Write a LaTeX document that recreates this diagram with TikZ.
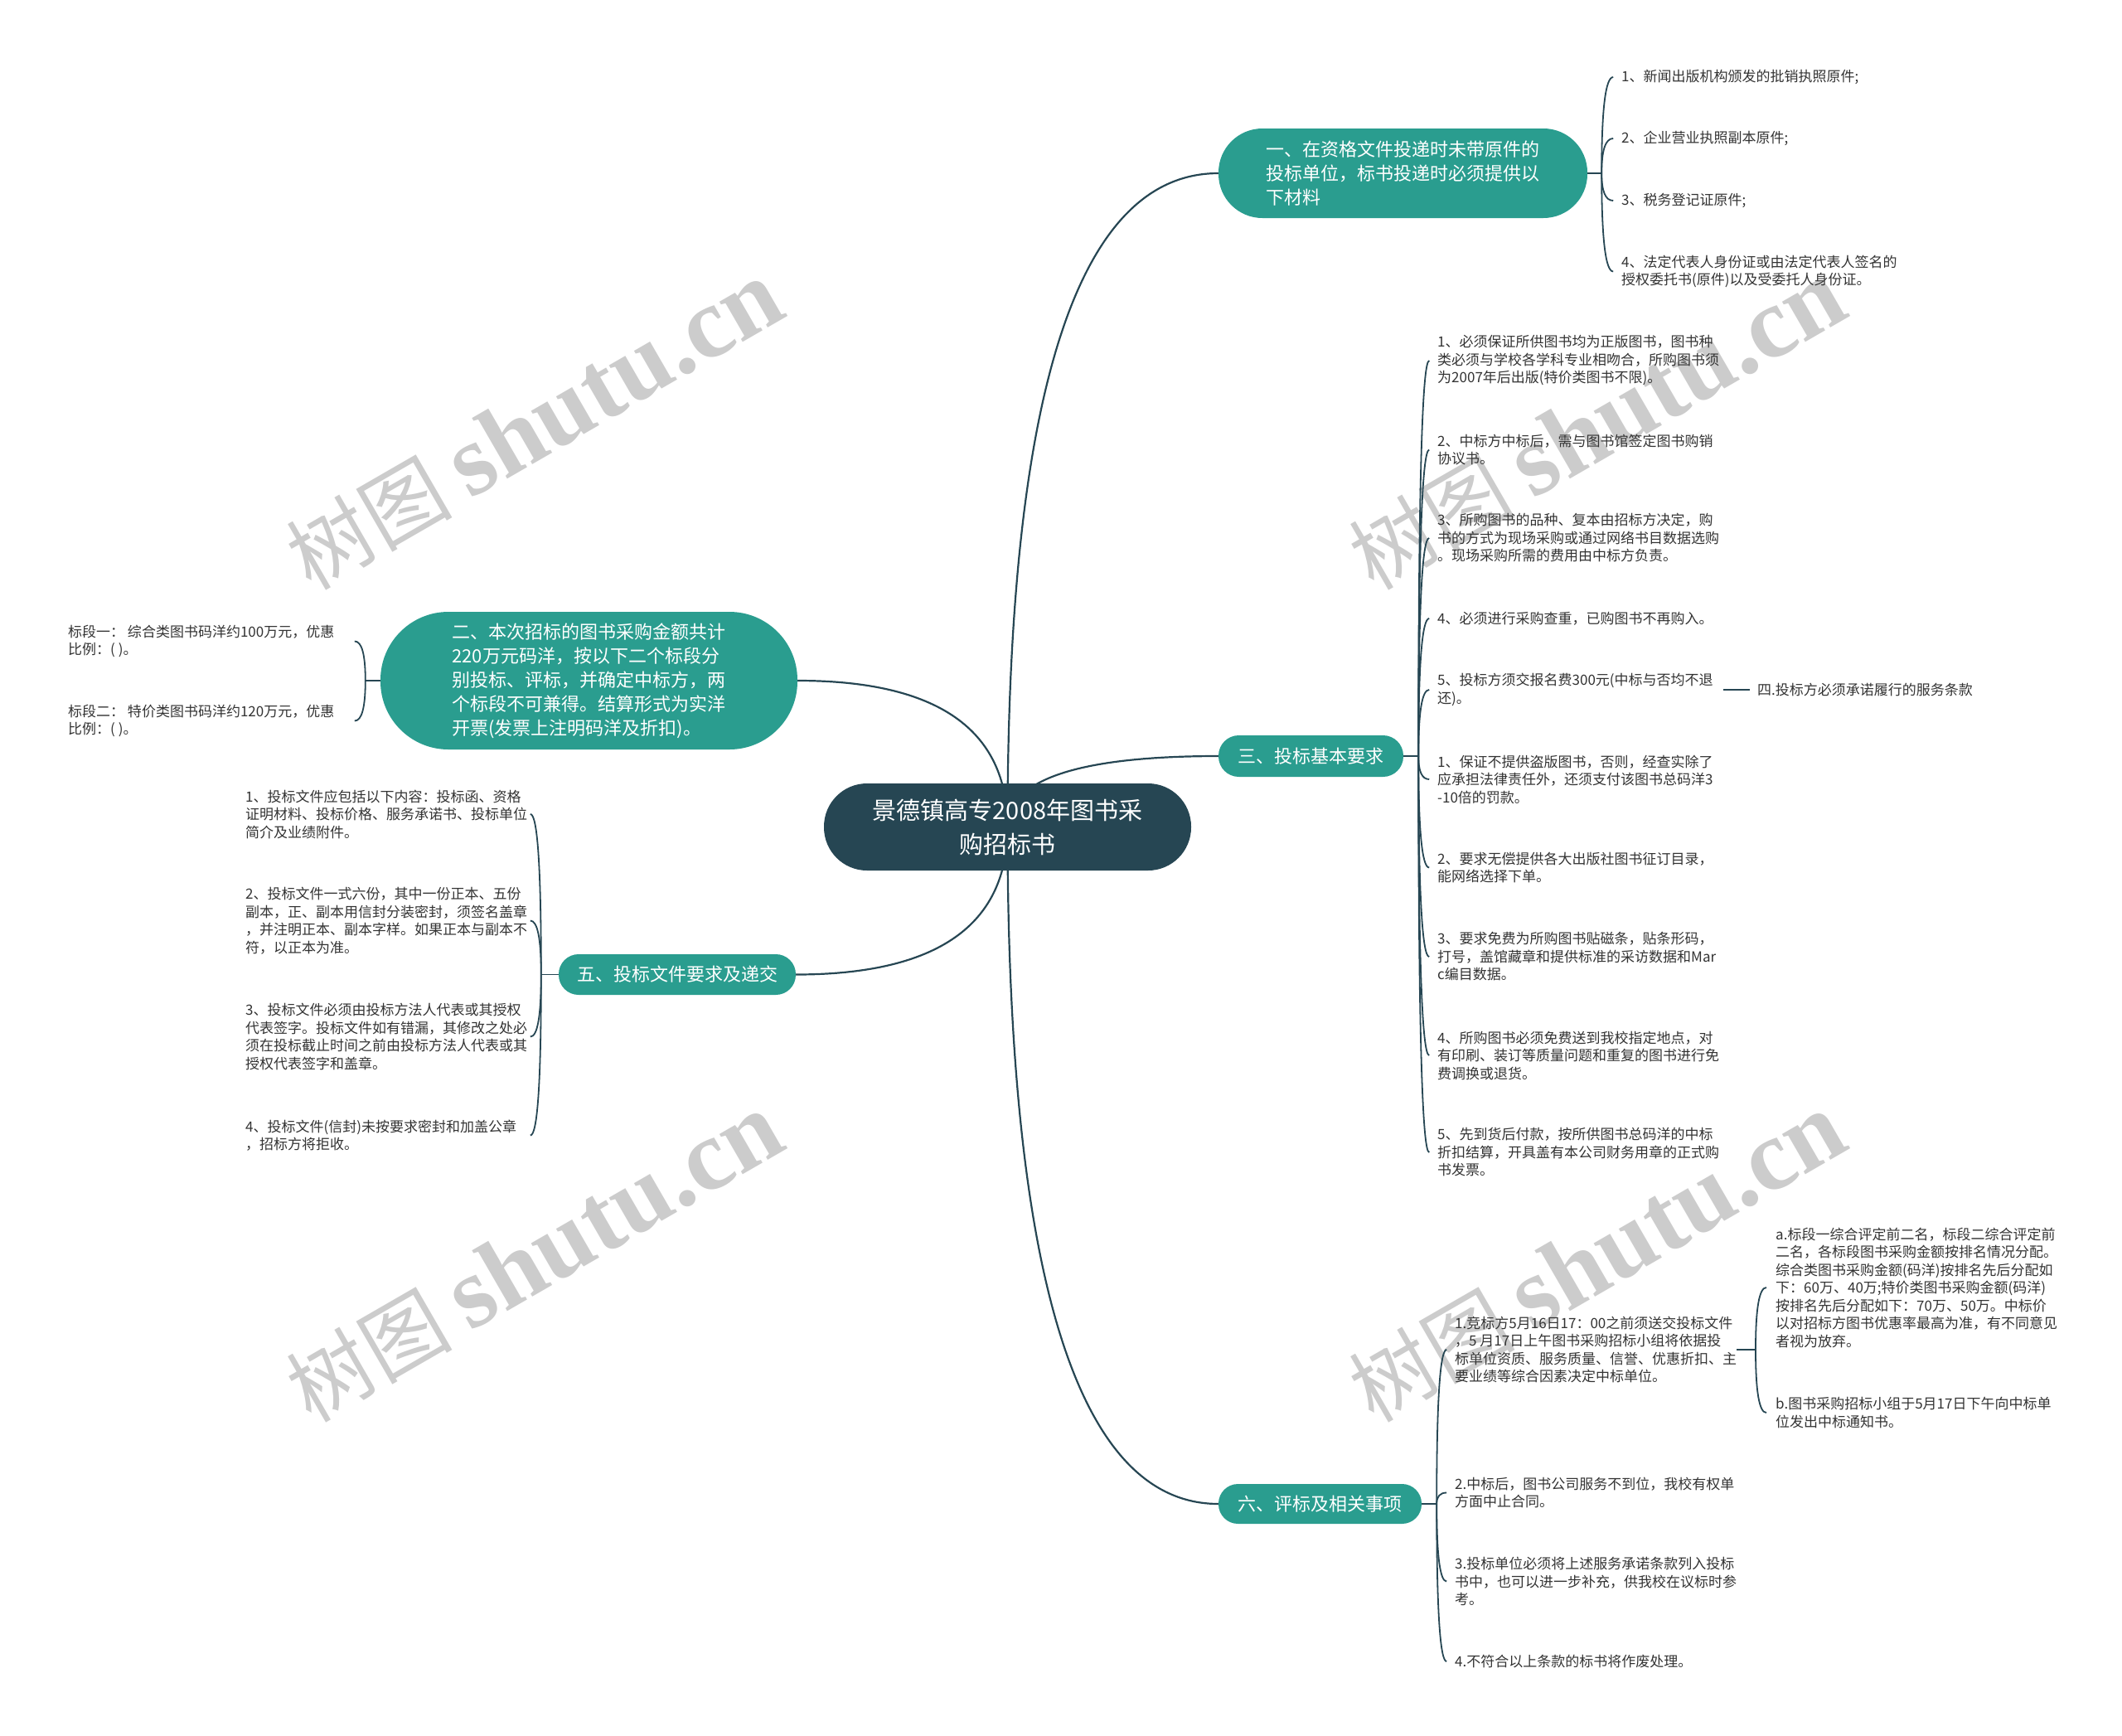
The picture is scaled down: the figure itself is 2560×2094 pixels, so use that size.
\documentclass[tikz,border=0pt]{standalone}
\usepackage{fontspec}
\setmainfont{Noto Sans CJK SC}
\newfontfamily\wmfont{Liberation Serif}
\usetikzlibrary{calc,backgrounds}
\definecolor{teal1}{HTML}{2A9D8F}
\definecolor{dark1}{HTML}{264653}
\definecolor{leaftxt}{HTML}{333333}
\definecolor{wmgray}{HTML}{CCCCCC}
% quadratic-like bracket connector: #1 spine start coordinate, #2 child node, #3 signed hook length
\newcommand\mybrk[3]{\draw[brk] (#1) .. controls ($(#1)!0.6667!(#1 |- #2)$) and ($(#1 |- #2)+(#3/3,0)$) .. ($(#1 |- #2)+(#3,0)$);}
\begin{document}
\begin{tikzpicture}[x=1pt,y=-1pt,
  mainnode/.style={fill=teal1,text=white,font=\fontsize{22pt}{29pt}\selectfont,inner sep=0pt},
  leaf/.style={text=leaftxt,font=\fontsize{17pt}{21.5pt}\selectfont,align=left,inner sep=0pt,anchor=west},
  link/.style={draw=dark1,line width=2.2pt},
  brk/.style={draw=dark1,line width=1.8pt},
  wmark/.style={text=wmgray,rotate=30,inner sep=0pt}
]
\useasboundingbox (0,0) rectangle (2560,2094);

% ---------- main nodes ----------
\node[mainnode,fill=dark1,minimum width=443pt,minimum height=105pt,rounded corners=52pt,align=center,font=\fontsize{29pt}{41pt}\selectfont] (ctr) at (1215.5,997.5) {景德镇高专2008年图书采\\购招标书};
\node[mainnode,minimum width=445pt,minimum height=108pt,rounded corners=53pt,align=left] (n1) at (1692.5,209) {一、在资格文件投递时未带原件的\\投标单位，标书投递时必须提供以\\下材料};
\node[mainnode,minimum width=223pt,minimum height=50pt,rounded corners=24.5pt] (n3) at (1581.5,912) {三、投标基本要求};
\node[mainnode,minimum width=245pt,minimum height=48pt,rounded corners=23.5pt] (n6) at (1592.5,1814) {六、评标及相关事项};
\node[mainnode,minimum width=503pt,minimum height=166pt,rounded corners=82pt,align=left] (n2) at (710.5,821) {二、本次招标的图书采购金额共计\\220万元码洋，按以下二个标段分\\别投标、评标，并确定中标方，两\\个标段不可兼得。结算形式为实洋\\开票(发票上注明码洋及折扣)。};
\node[mainnode,minimum width=286pt,minimum height=49pt,rounded corners=24pt] (n5) at (817,1175.5) {五、投标文件要求及递交};

% ---------- leaves of 一 ----------
\node[leaf] (a1) at (1956,93) {1、新闻出版机构颁发的批销执照原件;};
\node[leaf] (a2) at (1956,167) {2、企业营业执照副本原件;};
\node[leaf] (a3) at (1956,242) {3、税务登记证原件;};
\node[leaf] (a4) at (1956,327.5) {4、法定代表人身份证或由法定代表人签名的\\授权委托书(原件)以及受委托人身份证。};

% ---------- leaves of 三 ----------
\node[leaf] (t31) at (1734,435) {1、必须保证所供图书均为正版图书，图书种\\类必须与学校各学科专业相吻合，所购图书须\\为2007年后出版(特价类图书不限)。};
\node[leaf] (t32) at (1734,542.5) {2、中标方中标后，需与图书馆签定图书购销\\协议书。};
\node[leaf] (t33) at (1734,649) {3、所购图书的品种、复本由招标方决定，购\\书的方式为现场采购或通过网络书目数据选购\\。现场采购所需的费用由中标方负责。};
\node[leaf] (t34) at (1734,746) {4、必须进行采购查重，已购图书不再购入。};
\node[leaf] (t35) at (1734,832) {5、投标方须交报名费300元(中标与否均不退\\还)。};
\node[leaf] (t36) at (1734,940) {1、保证不提供盗版图书，否则，经查实除了\\应承担法律责任外，还须支付该图书总码洋3\\-10倍的罚款。};
\node[leaf] (t37) at (1734,1046.5) {2、要求无偿提供各大出版社图书征订目录，\\能网络选择下单。};
\node[leaf] (t38) at (1734,1154) {3、要求免费为所购图书贴磁条，贴条形码，\\打号，盖馆藏章和提供标准的采访数据和Mar\\c编目数据。};
\node[leaf] (t39) at (1734,1273) {4、所购图书必须免费送到我校指定地点，对\\有印刷、装订等质量问题和重复的图书进行免\\费调换或退货。};
\node[leaf] (t310) at (1734,1390) {5、先到货后付款，按所供图书总码洋的中标\\折扣结算，开具盖有本公司财务用章的正式购\\书发票。};
\node[leaf] (t4) at (2120,832) {四.投标方必须承诺履行的服务条款};

% ---------- leaves of 二 ----------
\node[leaf] (b1) at (82,773.5) {标段一： 综合类图书码洋约100万元，优惠\\比例：( )。};
\node[leaf] (b2) at (82,869.5) {标段二： 特价类图书码洋约120万元，优惠\\比例：( )。};

% ---------- leaves of 五 ----------
\node[leaf] (f1) at (296,982) {1、投标文件应包括以下内容：投标函、资格\\证明材料、投标价格、服务承诺书、投标单位\\简介及业绩附件。};
\node[leaf] (f2) at (296,1110.5) {2、投标文件一式六份，其中一份正本、五份\\副本，正、副本用信封分装密封，须签名盖章\\，并注明正本、副本字样。如果正本与副本不\\符，以正本为准。};
\node[leaf] (f3) at (296,1250.5) {3、投标文件必须由投标方法人代表或其授权\\代表签字。投标文件如有错漏，其修改之处必\\须在投标截止时间之前由投标方法人代表或其\\授权代表签字和盖章。};
\node[leaf] (f4) at (296,1369.5) {4、投标文件(信封)未按要求密封和加盖公章\\，招标方将拒收。};

% ---------- leaves of 六 ----------
\node[leaf] (g1) at (1755,1628) {1.竞标方5月16日17：00之前须送交投标文件\\，5 月17日上午图书采购招标小组将依据投\\标单位资质、服务质量、信誉、优惠折扣、主\\要业绩等综合因素决定中标单位。};
\node[leaf] (g2) at (1755,1800.5) {2.中标后，图书公司服务不到位，我校有权单\\方面中止合同。};
\node[leaf] (g3) at (1755,1907.5) {3.投标单位必须将上述服务承诺条款列入投标\\书中，也可以进一步补充，供我校在议标时参\\考。};
\node[leaf] (g4) at (1755,2004) {4.不符合以上条款的标书将作废处理。};
\node[leaf] (h1) at (2142,1553) {a.标段一综合评定前二名，标段二综合评定前\\二名，各标段图书采购金额按排名情况分配。\\综合类图书采购金额(码洋)按排名先后分配如\\下：60万、40万;特价类图书采购金额(码洋)\\按排名先后分配如下：70万、50万。中标价\\以对招标方图书优惠率最高为准，有不同意见\\者视为放弃。};
\node[leaf] (h2) at (2142,1704) {b.图书采购招标小组于5月17日下午向中标单\\位发出中标通知书。};

% ---------- spine coordinates ----------
\coordinate (s1) at ($(n1.east)+(17,0)$);
\coordinate (s3) at ($(n3.east)+(18,0)$);
\coordinate (s6) at ($(n6.east)+(18,0)$);
\coordinate (s2) at ($(n2.west)+(-18,0)$);
\coordinate (s5) at ($(n5.west)+(-21,0)$);
\coordinate (k61) at (2118,0);
\coordinate (s61) at (k61 |- g1);

\begin{scope}[on background layer]
% watermarks
\foreach \wx/\wy [count=\wi] in {645/514,1927/514,645/1518,1927/1518}{
  \node[wmark] (wm\wi) at (\wx,\wy) {{\fontsize{100pt}{100pt}\selectfont 树图}\hspace{22pt}{\wmfont\bfseries\fontsize{122pt}{122pt}\selectfont shutu.cn}};
}
% main curves
\draw[link] (ctr.center) .. controls ($(ctr.center)!0.6667!(ctr.center |- n1.west)$) and ($(n1.west)!0.6667!(ctr.center |- n1.west)$) .. (n1.west);
\draw[link] (ctr.center) .. controls ($(ctr.center)!0.6667!(ctr.center |- n3.west)$) and ($(n3.west)!0.6667!(ctr.center |- n3.west)$) .. (n3.west);
\draw[link] (ctr.center) .. controls ($(ctr.center)!0.6667!(ctr.center |- n6.west)$) and ($(n6.west)!0.6667!(ctr.center |- n6.west)$) .. (n6.west);
\draw[link] (ctr.center) .. controls ($(ctr.center)!0.6667!(ctr.center |- n2.east)$) and ($(n2.east)!0.6667!(ctr.center |- n2.east)$) .. (n2.east);
\draw[link] (ctr.center) .. controls ($(ctr.center)!0.6667!(ctr.center |- n5.east)$) and ($(n5.east)!0.6667!(ctr.center |- n5.east)$) .. (n5.east);
\end{scope}

% ---------- brackets ----------
\draw[brk] (n1.east) -- (s1);
\mybrk{s1}{a1}{14}\mybrk{s1}{a2}{14}\mybrk{s1}{a3}{14}\mybrk{s1}{a4}{14}

\draw[brk] (n3.east) -- (s3);
\mybrk{s3}{t31}{13}\mybrk{s3}{t32}{13}\mybrk{s3}{t33}{13}\mybrk{s3}{t34}{13}\mybrk{s3}{t35}{13}
\mybrk{s3}{t36}{13}\mybrk{s3}{t37}{13}\mybrk{s3}{t38}{13}\mybrk{s3}{t39}{13}\mybrk{s3}{t310}{13}
\draw[brk,shorten <=12pt,shorten >=9pt] (t35.east) -- (t35.east -| t4.west);

\draw[brk] (n2.west) -- (s2);
\mybrk{s2}{b1}{-13}\mybrk{s2}{b2}{-13}

\draw[brk] (n5.west) -- (s5);
\mybrk{s5}{f1}{-13}\mybrk{s5}{f2}{-13}\mybrk{s5}{f3}{-13}\mybrk{s5}{f4}{-13}

\draw[brk] (n6.east) -- (s6);
\mybrk{s6}{g1}{12}\mybrk{s6}{g2}{12}\mybrk{s6}{g3}{12}\mybrk{s6}{g4}{12}

\draw[brk] (g1.east) -- (s61);
\mybrk{s61}{h1}{13}\mybrk{s61}{h2}{13}
\end{tikzpicture}
\end{document}
